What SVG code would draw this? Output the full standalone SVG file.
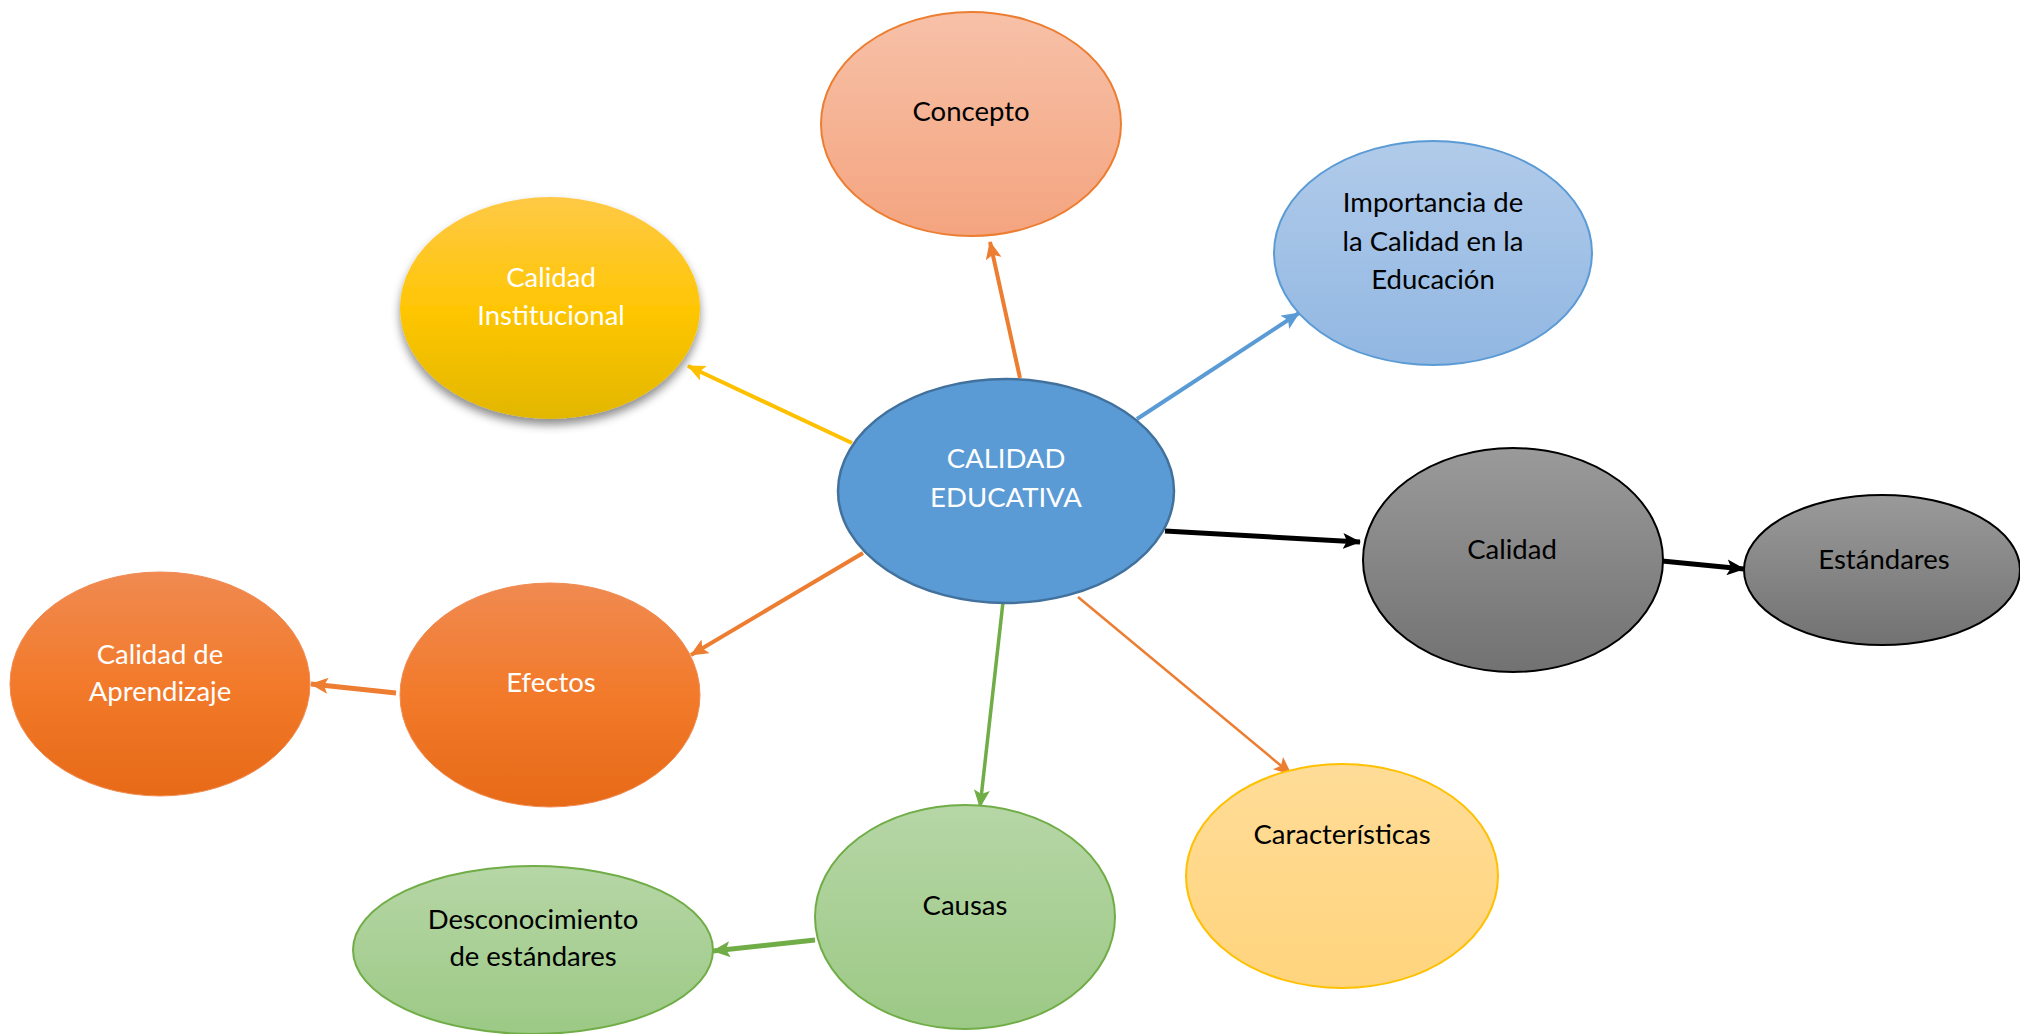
<svg xmlns="http://www.w3.org/2000/svg" width="2020" height="1034" viewBox="0 0 2020 1034">
<style>
text{font-family:Lato,"Liberation Sans",sans-serif;font-size:27.5px;text-anchor:middle}
.w{fill:#ffffff}
.k{fill:#000000}
.c{fill:none;stroke-linecap:butt}
</style>
<defs>
<linearGradient id="gConcepto" x1="0" y1="0" x2="0" y2="1"><stop offset="0" stop-color="#F7C1A8"/><stop offset="1" stop-color="#F4A47F"/></linearGradient>
<linearGradient id="gImport" x1="0" y1="0" x2="0" y2="1"><stop offset="0" stop-color="#B1CBEA"/><stop offset="1" stop-color="#91B7E2"/></linearGradient>
<linearGradient id="gGold" x1="0" y1="0" x2="0" y2="1"><stop offset="0" stop-color="#FFC946"/><stop offset="0.5" stop-color="#FFC605"/><stop offset="1" stop-color="#E2B700"/></linearGradient>
<linearGradient id="gGray" x1="0" y1="0" x2="0" y2="1"><stop offset="0" stop-color="#9A9A9A"/><stop offset="1" stop-color="#727272"/></linearGradient>
<linearGradient id="gCaract" x1="0" y1="0" x2="0" y2="1"><stop offset="0" stop-color="#FFDC97"/><stop offset="1" stop-color="#FFD47D"/></linearGradient>
<linearGradient id="gOrange" x1="0" y1="0" x2="0" y2="1"><stop offset="0" stop-color="#F08A51"/><stop offset="0.5" stop-color="#F27A2A"/><stop offset="1" stop-color="#E76A17"/></linearGradient>
<linearGradient id="gGreen" x1="0" y1="0" x2="0" y2="1"><stop offset="0" stop-color="#B6D6A6"/><stop offset="1" stop-color="#9CC985"/></linearGradient>
<filter id="shadow" x="-20%" y="-20%" width="140%" height="150%"><feDropShadow dx="0" dy="6" stdDeviation="5" flood-color="#000" flood-opacity="0.45"/></filter>
<marker id="aOrange" viewBox="0 0 18 16" refX="17" refY="8" markerWidth="18" markerHeight="16" markerUnits="userSpaceOnUse" orient="auto"><path d="M0,0 L18,8 L0,16 L4,8 Z" fill="#ED7D31"/></marker>
<marker id="aBlue" viewBox="0 0 18 16" refX="17" refY="8" markerWidth="18" markerHeight="16" markerUnits="userSpaceOnUse" orient="auto"><path d="M0,0 L18,8 L0,16 L4,8 Z" fill="#5B9BD5"/></marker>
<marker id="aGold" viewBox="0 0 18 16" refX="17" refY="8" markerWidth="18" markerHeight="16" markerUnits="userSpaceOnUse" orient="auto"><path d="M0,0 L18,8 L0,16 L4,8 Z" fill="#FFC000"/></marker>
<marker id="aBlack" viewBox="0 0 18 16" refX="17" refY="8" markerWidth="18" markerHeight="16" markerUnits="userSpaceOnUse" orient="auto"><path d="M0,0 L18,8 L0,16 L4,8 Z" fill="#000000"/></marker>
<marker id="aGreen" viewBox="0 0 18 16" refX="17" refY="8" markerWidth="18" markerHeight="16" markerUnits="userSpaceOnUse" orient="auto"><path d="M0,0 L18,8 L0,16 L4,8 Z" fill="#70AD47"/></marker>
</defs>
<rect width="2020" height="1034" fill="#ffffff"/>

<g id="connectors">
<line class="c" x1="1020" y1="378" x2="990" y2="242" stroke="#ED7D31" stroke-width="4" marker-end="url(#aOrange)"/>
<line class="c" x1="1137" y1="419" x2="1299" y2="313" stroke="#5B9BD5" stroke-width="4" marker-end="url(#aBlue)"/>
<line class="c" x1="852" y1="443" x2="688" y2="366" stroke="#FFC000" stroke-width="4" marker-end="url(#aGold)"/>
<line class="c" x1="1165" y1="531" x2="1360" y2="542" stroke="#000000" stroke-width="5" marker-end="url(#aBlack)"/>
<line class="c" x1="1662" y1="561" x2="1744" y2="569" stroke="#000000" stroke-width="5" marker-end="url(#aBlack)"/>
<line class="c" x1="1078" y1="597" x2="1291" y2="774" stroke="#ED7D31" stroke-width="2.5" marker-end="url(#aOrange)"/>
<line class="c" x1="1003" y1="602" x2="980" y2="807" stroke="#70AD47" stroke-width="3.5" marker-end="url(#aGreen)"/>
<line class="c" x1="815" y1="940" x2="713" y2="951" stroke="#70AD47" stroke-width="5" marker-end="url(#aGreen)"/>
<line class="c" x1="863" y1="553" x2="691" y2="655" stroke="#ED7D31" stroke-width="4" marker-end="url(#aOrange)"/>
<line class="c" x1="396" y1="693" x2="311" y2="684" stroke="#ED7D31" stroke-width="5" marker-end="url(#aOrange)"/>
</g>

<g id="node-concepto">
<ellipse cx="971" cy="124" rx="150" ry="112" fill="url(#gConcepto)" stroke="#ED7D31" stroke-width="2"/>
<text class="k" x="971" y="121">Concepto</text>
</g>

<g id="node-importancia">
<ellipse cx="1433" cy="253" rx="159" ry="112" fill="url(#gImport)" stroke="#5B9BD5" stroke-width="2"/>
<text class="k" x="1433" y="212">Importancia de</text>
<text class="k" x="1433" y="251">la Calidad en la</text>
<text class="k" x="1433" y="289">Educación</text>
</g>

<g id="node-institucional">
<ellipse cx="550" cy="308" rx="150" ry="111" fill="url(#gGold)" filter="url(#shadow)"/>
<text class="w" x="551" y="287">Calidad</text>
<text class="w" x="551" y="325">Institucional</text>
</g>

<g id="node-central">
<ellipse cx="1006" cy="491" rx="168" ry="112" fill="#5B9BD5" stroke="#41719C" stroke-width="2.5"/>
<text class="w" x="1006" y="468">CALIDAD</text>
<text class="w" x="1006" y="507">EDUCATIVA</text>
</g>

<g id="node-calidad">
<ellipse cx="1513" cy="560" rx="150" ry="112" fill="url(#gGray)" stroke="#000000" stroke-width="2"/>
<text class="k" x="1512" y="559">Calidad</text>
</g>

<g id="node-estandares">
<ellipse cx="1882" cy="570" rx="138" ry="75" fill="url(#gGray)" stroke="#000000" stroke-width="2"/>
<text class="k" x="1884" y="569">Estándares</text>
</g>

<g id="node-efectos">
<ellipse cx="550" cy="695" rx="150" ry="112" fill="url(#gOrange)" stroke="#F08A51" stroke-width="1"/>
<text class="w" x="551" y="692">Efectos</text>
</g>

<g id="node-aprendizaje">
<ellipse cx="160" cy="684" rx="150" ry="112" fill="url(#gOrange)" stroke="#F08A51" stroke-width="1"/>
<text class="w" x="160" y="664">Calidad de</text>
<text class="w" x="160" y="701">Aprendizaje</text>
</g>

<g id="node-causas">
<ellipse cx="965" cy="917" rx="150" ry="112" fill="url(#gGreen)" stroke="#70AD47" stroke-width="2"/>
<text class="k" x="965" y="915">Causas</text>
</g>

<g id="node-desconocimiento">
<ellipse cx="533" cy="950" rx="180" ry="84" fill="url(#gGreen)" stroke="#70AD47" stroke-width="2"/>
<text class="k" x="533" y="929">Desconocimiento</text>
<text class="k" x="533" y="966">de estándares</text>
</g>

<g id="node-caracteristicas">
<ellipse cx="1342" cy="876" rx="156" ry="112" fill="url(#gCaract)" stroke="#FFC000" stroke-width="2"/>
<text class="k" x="1342" y="844">Características</text>
</g>
</svg>
